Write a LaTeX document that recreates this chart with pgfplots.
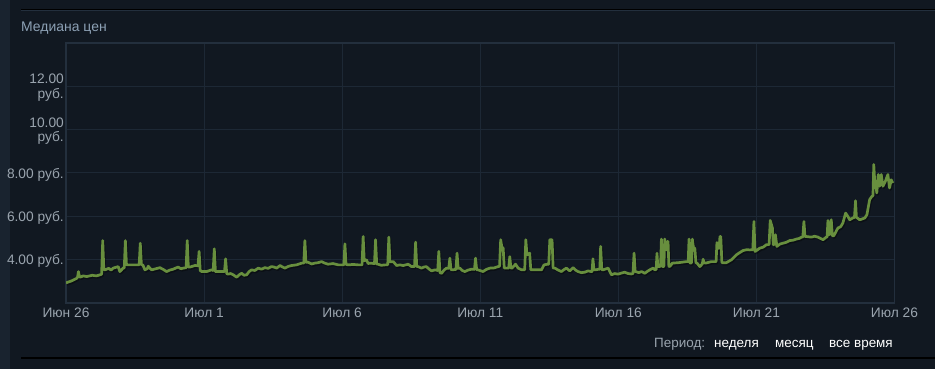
\documentclass[border=0pt]{standalone}
\usepackage{pgfplots}
\usepackage{pgfplotstable}
\pgfplotsset{compat=1.18}
\usepackage{fontspec}
\setmainfont{Liberation Sans}
\definecolor{bg}{HTML}{111821}
\definecolor{strip}{HTML}{19232F}
\definecolor{gridc}{HTML}{1D2835}
\definecolor{borderc}{HTML}{232F3D}
\definecolor{lbl}{HTML}{9AA4AE}
\definecolor{ttl}{HTML}{8DA1B5}
\definecolor{linec}{HTML}{688F3E}
\pgfplotstableread{
d v
0.00 2.93
0.20 3.02
0.39 3.14
0.42 3.20
0.45 3.45
0.49 3.22
0.51 3.19
0.62 3.25
0.75 3.22
0.95 3.28
1.10 3.25
1.23 3.30
1.29 3.33
1.33 4.88
1.37 3.55
1.41 3.53
1.55 3.60
1.63 3.52
1.71 3.61
1.89 3.68
1.95 3.45
2.07 3.61
2.11 3.62
2.15 4.88
2.19 3.76
2.25 3.76
2.61 3.76
2.65 3.76
2.69 4.76
2.73 3.76
2.78 3.76
2.86 3.53
2.94 3.58
2.98 3.70
3.04 3.60
3.10 3.53
3.25 3.58
3.40 3.63
3.52 3.55
3.64 3.45
3.76 3.52
3.88 3.56
4.06 3.66
4.16 3.58
4.25 3.61
4.35 3.63
4.39 4.88
4.43 3.66
4.49 3.66
4.67 3.73
4.78 3.72
4.82 4.38
4.86 3.50
4.91 3.45
5.09 3.45
5.27 3.53
5.33 3.50
5.37 4.50
5.41 3.45
5.45 3.45
5.64 3.45
5.74 3.45
5.78 4.04
5.82 3.36
5.87 3.33
5.96 3.36
6.06 3.30
6.12 3.24
6.18 3.19
6.27 3.30
6.36 3.37
6.45 3.28
6.54 3.30
6.63 3.45
6.72 3.53
6.84 3.50
6.96 3.61
7.08 3.56
7.20 3.63
7.32 3.60
7.44 3.68
7.53 3.66
7.63 3.61
7.75 3.73
7.84 3.66
7.93 3.61
8.05 3.69
8.17 3.73
8.35 3.76
8.53 3.84
8.61 3.84
8.65 4.88
8.69 3.88
8.77 3.88
8.89 3.80
9.01 3.84
9.13 3.86
9.25 3.91
9.37 3.84
9.49 3.79
9.67 3.82
9.86 3.76
10.06 3.76
10.10 4.73
10.14 3.78
10.22 3.76
10.40 3.78
10.58 3.76
10.72 3.76
10.76 5.07
10.80 3.95
10.88 3.99
10.94 3.82
11.00 3.84
11.17 3.82
11.21 4.92
11.25 3.80
11.30 3.79
11.42 3.74
11.55 3.76
11.65 3.76
11.69 5.04
11.73 3.90
11.85 3.91
11.97 3.73
12.09 3.76
12.21 3.73
12.39 3.79
12.51 3.68
12.62 3.68
12.66 4.81
12.70 3.68
12.75 3.68
12.87 3.61
12.96 3.66
13.05 3.68
13.15 3.56
13.24 3.48
13.36 3.53
13.46 3.50
13.50 4.38
13.54 3.40
13.60 3.37
13.69 3.52
13.78 3.61
13.86 3.60
13.90 4.07
13.94 3.55
13.98 3.53
14.12 3.55
14.16 4.30
14.20 3.60
14.26 3.61
14.35 3.50
14.44 3.45
14.56 3.52
14.68 3.56
14.79 3.55
14.83 4.07
14.87 3.53
14.92 3.53
15.10 3.45
15.22 3.55
15.35 3.61
15.50 3.62
15.65 3.68
15.70 3.70
15.74 4.92
15.78 4.60
15.83 4.53
15.87 3.61
15.91 3.61
16.03 3.61
16.07 4.14
16.11 3.61
16.15 3.61
16.28 3.79
16.37 3.61
16.50 3.53
16.61 3.53
16.65 4.92
16.69 4.25
16.73 4.22
16.79 4.30
16.83 3.53
16.85 3.53
17.03 3.53
17.22 3.53
17.31 3.76
17.44 3.79
17.48 3.79
17.52 4.92
17.60 4.92
17.64 3.61
17.70 3.61
17.82 3.52
17.94 3.45
18.03 3.54
18.12 3.61
18.24 3.48
18.36 3.63
18.45 3.52
18.54 3.45
18.66 3.40
18.78 3.42
18.90 3.48
19.03 3.45
19.05 3.45
19.08 4.04
19.12 3.53
19.17 3.53
19.29 3.56
19.33 3.56
19.36 4.61
19.40 3.53
19.45 3.53
19.63 3.61
19.75 3.30
19.87 3.36
19.99 3.33
20.11 3.38
20.23 3.42
20.35 3.36
20.47 3.34
20.53 3.36
20.57 4.30
20.61 3.45
20.63 3.45
20.74 3.40
20.84 3.45
20.96 3.37
21.05 3.46
21.14 3.53
21.26 3.61
21.32 3.53
21.37 3.55
21.40 4.30
21.43 3.68
21.47 3.68
21.53 3.70
21.56 4.95
21.59 3.70
21.62 3.68
21.65 3.70
21.68 4.95
21.71 4.50
21.74 4.45
21.77 4.84
21.80 4.84
21.83 3.70
21.86 3.68
21.96 3.84
22.16 3.86
22.30 3.88
22.46 3.91
22.53 3.91
22.56 4.95
22.59 3.86
22.62 3.84
22.65 3.86
22.68 4.95
22.72 4.55
22.77 4.53
22.81 3.86
22.85 3.84
22.95 3.68
23.04 3.80
23.07 4.02
23.10 3.86
23.16 3.84
23.37 3.91
23.49 3.91
23.54 3.91
23.57 4.79
23.61 4.53
23.65 4.53
23.68 5.07
23.71 5.07
23.75 3.86
23.79 3.86
23.91 3.86
24.09 3.99
24.27 4.22
24.51 4.42
24.65 4.46
24.76 4.45
24.87 4.46
24.91 5.76
24.95 4.38
24.98 4.40
25.12 4.53
25.25 4.58
25.36 4.69
25.46 4.70
25.50 5.81
25.55 5.60
25.58 5.46
25.61 4.69
25.64 4.69
25.69 5.15
25.74 4.61
25.85 4.72
25.96 4.76
26.08 4.80
26.20 4.88
26.33 4.90
26.45 4.95
26.55 4.98
26.63 5.04
26.68 5.04
26.72 5.76
26.76 5.07
26.80 5.07
26.99 5.04
27.11 5.08
27.23 5.04
27.41 4.92
27.53 5.04
27.56 5.05
27.59 5.81
27.63 5.15
27.66 5.20
27.71 5.84
27.75 5.10
27.80 5.10
27.95 5.46
28.05 5.52
28.13 5.69
28.23 6.15
28.31 6.00
28.38 5.84
28.48 5.92
28.55 5.95
28.59 6.72
28.62 5.95
28.66 5.92
28.74 5.84
28.92 5.92
29.00 6.07
29.10 6.77
29.18 6.92
29.22 6.95
29.25 8.39
29.29 7.46
29.32 7.46
29.36 7.08
29.41 7.93
29.46 7.39
29.52 7.93
29.58 7.39
29.67 7.62
29.76 7.93
29.82 7.31
29.88 7.69
29.94 7.54
}\pricedata
\begin{document}
\begin{tikzpicture}
\fill[bg] (0bp,0bp) rectangle (935bp,369bp);
\fill[strip] (0bp,0bp) rectangle (10bp,369bp);
\fill[black] (21bp,359bp) rectangle (935bp,360bp);
\fill[borderc] (21bp,357.5bp) rectangle (935bp,359bp);
\fill[black] (21bp,10.4bp) rectangle (935bp,11.6bp);
\node[anchor=base west, text=ttl, font=\fontsize{14}{16}\selectfont, inner sep=0pt] at (21bp,337bp) {Медиана цен};
\node[anchor=base west, text=lbl, font=\fontsize{13.5}{16}\selectfont, inner sep=0pt] at (654bp,22bp) {Период:};
\node[anchor=base west, text=white, font=\fontsize{13.5}{16}\selectfont, inner sep=0pt] at (714bp,22bp) {неделя};
\node[anchor=base west, text=white, font=\fontsize{13.5}{16}\selectfont, inner sep=0pt] at (775bp,22bp) {месяц};
\node[anchor=base west, text=white, font=\fontsize{13.5}{16}\selectfont, inner sep=0pt] at (829bp,22bp) {все время};
\begin{axis}[
  at={(66bp,66bp)}, anchor=south west,
  scale only axis, width=828.5bp, height=260bp,
  xmin=0, xmax=30, ymin=2, ymax=14,
  xtick={0,5,10,15,20,25,30},
  xticklabels={Июн 26, Июл 1, Июл 6, Июл 11, Июл 16, Июл 21, Июл 26},
  ytick={4,6,8,10,12},
  yticklabels={{4.00 руб.},{6.00 руб.},{8.00 руб.},{10.00\\руб.},{12.00\\руб.}},
  major tick length=0pt,
  grid=major,
  grid style={gridc, line width=1bp},
  axis line style={borderc, line width=1.5bp},
  xticklabel style={anchor=north, inner sep=0pt, yshift=-5bp, text=lbl, font=\fontsize{13.8}{14.5}\selectfont},
  yticklabel style={anchor=east, align=right, inner sep=0pt, xshift=-2bp, yshift=-1.5bp, text=lbl, font=\fontsize{13.8}{14.5}\selectfont},
]
\addplot[black, opacity=0.35, line width=2.7bp, line join=round, xshift=1bp, yshift=-1.5bp] table[x=d, y=v] {\pricedata};
\addplot[linec, line width=2.7bp, line join=round] table[x=d, y=v] {\pricedata};
\end{axis}
\end{tikzpicture}
\end{document}
